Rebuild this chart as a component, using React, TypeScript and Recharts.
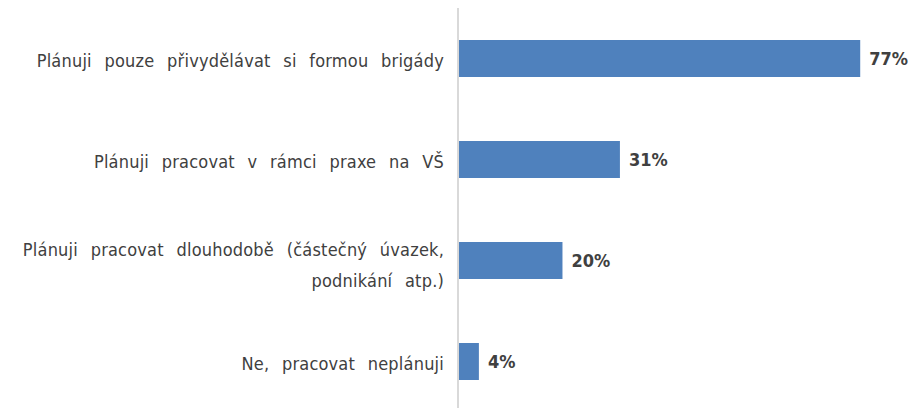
import { Bar, BarChart, LabelList, XAxis, YAxis } from "recharts";

const categories = [
  "Plánuji  pouze  přivydělávat  si  formou  brigády",
  "Plánuji  pracovat  v  rámci  praxe  na  VŠ",
  "Plánuji  pracovat  dlouhodobě  (částečný  úvazek,\npodnikání  atp.)",
  "Ne,  pracovat  neplánuji",
];
const values = [77, 31, 20, 4];

const data = categories.map((name, i) => ({ name, value: values[i] }));

const FONT = "'DejaVu Sans Condensed', sans-serif";

function Tick(props: any) {
  const { x, y, payload } = props;
  const lines: string[] = String(payload.value).split("\n");
  const lh = 31;
  const start = y + 2 - ((lines.length - 1) * lh) / 2 + (lines.length > 1 ? 3 : 0);
  return (
    <text
      x={x}
      y={start}
      textAnchor="end"
      fill="#404040"
      fontSize={18}
      fontFamily={FONT}
      letterSpacing={0.2}
      wordSpacing={1}
      style={{ whiteSpace: "pre" }}
    >
      {lines.map((l, i) => (
        <tspan key={i} x={x} y={start + i * lh} dy="0.35em">{l}</tspan>
      ))}
    </text>
  );
}

export default function App() {
  return (
    <div style={{ position: "absolute", left: 0, top: 0, width: 921, height: 408, overflow: "hidden", background: "#fff" }}>
      <BarChart
        width={921}
        height={412}
        layout="vertical"
        data={data}
        margin={{ top: 8, right: 19, bottom: 0, left: 0 }}
      >
        <XAxis type="number" domain={[0, 85]} hide />
        <YAxis
          type="category"
          dataKey="name"
          width={458}
          axisLine={{ stroke: "#d9d9d9", strokeWidth: 2 }}
          tickLine={false}
          tick={<Tick />}
          tickMargin={8}
        />
        <Bar dataKey="value" fill="#4f81bd" barSize={37} isAnimationActive={false}>
          <LabelList
            dataKey="value"
            position="right"
            offset={9}
            formatter={(v: any) => `${v}%`}
            style={{ fill: "#404040", fontWeight: "bold", fontSize: 18, fontFamily: FONT }}
          />
        </Bar>
      </BarChart>
    </div>
  );
}
